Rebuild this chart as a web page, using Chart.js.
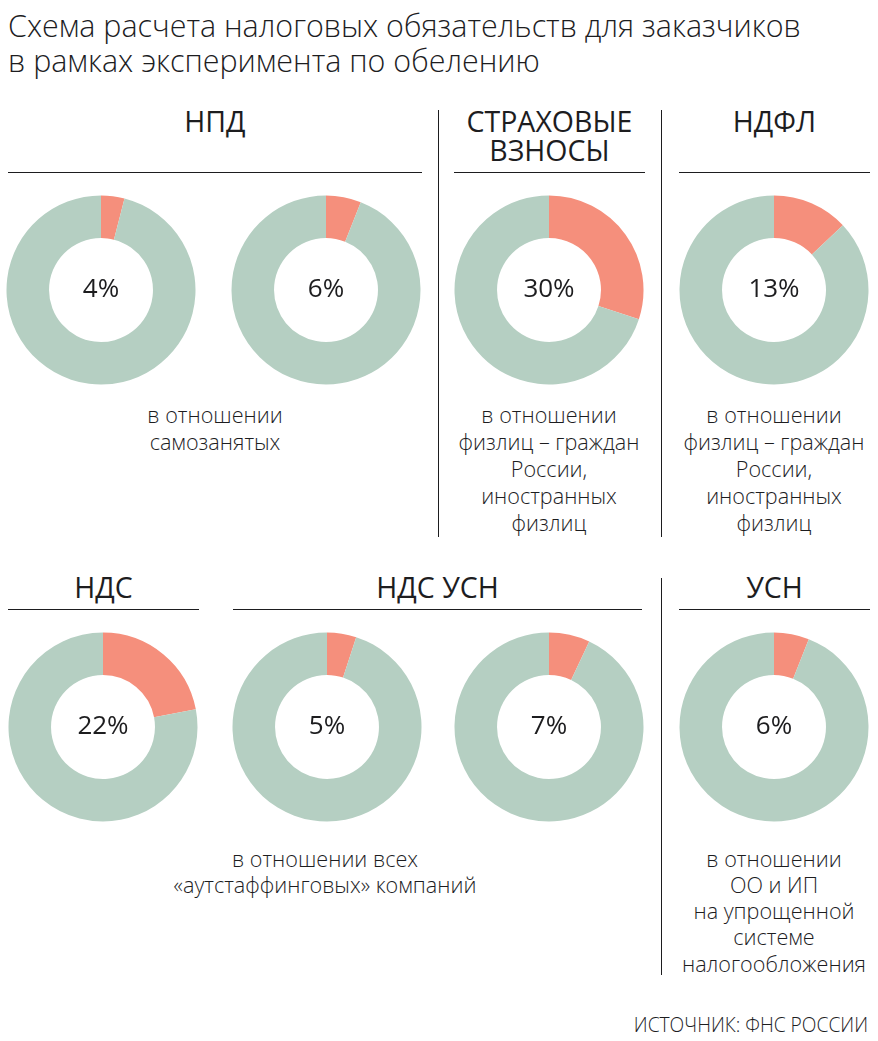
<!DOCTYPE html>
<html lang="ru">
<head>
<meta charset="utf-8">
<title>Схема расчета налоговых обязательств</title>
<script src="https://cdn.jsdelivr.net/npm/chart.js@4.4.1/dist/chart.umd.min.js"></script>
<style>
  html, body { margin: 0; padding: 0; background: #fff; }
  body { width: 878px; height: 1041px; position: relative; overflow: hidden; font-family: 'Open Sans', sans-serif; color: #1d1d1f; }
  .abs { position: absolute; }
  .title { left: 8px; top: 8px; font-size: 30.45px; font-weight: 300; line-height: 35px; white-space: nowrap; }
  .head { font-size: 28.5px; font-weight: 500; line-height: 29px; text-align: center; }
  .rule { background: #1d1d1f; }
  .cap { font-size: 21.6px; font-weight: 300; text-align: center; white-space: nowrap; width: 340px; }
  .pct { font-size: 26px; font-weight: 400; line-height: 30px; width: 100px; text-align: center; }
  .src { right: 10px; top: 1015px; font-size: 19.2px; font-weight: 300; line-height: 20px; white-space: nowrap; }
</style>
</head>
<body>
<div class="abs title">Схема расчета налоговых обязательств для заказчиков<br>в рамках эксперимента по обелению</div>
<div class="abs src">ИСТОЧНИК: ФНС РОССИИ</div>
<script>
  // data
  const panelTitles = ['НПД', 'СТРАХОВЫЕ<br>ВЗНОСЫ', 'НДФЛ', 'НДС', 'НДС УСН', 'УСН'];
  const rates = [4, 6, 30, 13, 22, 5, 7, 6];
  const sliceLabels = ['ставка', 'остальное'];
  const captions = [
    'в отношении<br>самозанятых',
    'в отношении<br>физлиц – граждан<br>России,<br>иностранных<br>физлиц',
    'в отношении<br>физлиц – граждан<br>России,<br>иностранных<br>физлиц',
    'в отношении всех<br>«аутстаффинговых» компаний',
    'в отношении<br>ОО и ИП<br>на упрощенной<br>системе<br>налогообложения'
  ];

  // layout
  const SALMON = '#f58f7c';
  const SAGE = '#b5cfc2';
  const donutCenters = [[101, 290], [326, 290], [549, 290], [774, 290], [103, 727], [327, 727], [549, 727], [774, 727]];
  const headBoxes = [[8, 414, 106.5], [454, 191, 106.5], [679, 191, 106.5], [8, 191, 572.5], [233, 409, 572.5], [679, 191, 572.5]];
  const rules = [[8, 172, 414, 1.3], [454, 172, 191, 1.3], [679, 172, 191, 1.3], [8, 609, 191, 1.3], [233, 609, 409, 1.3], [679, 609, 191, 1.3],
                 [438, 110, 1.3, 427], [661, 110, 1.3, 427], [661, 578, 1.3, 397]];
  const capBoxes = [[215, 401, 27], [549, 401, 27], [774, 401, 27], [325, 845.5, 26.3], [774, 845.5, 26.3]];

  const body = document.body;
  function add(cls, css, html) {
    const d = document.createElement('div');
    d.className = 'abs ' + cls;
    Object.assign(d.style, css);
    if (html != null) d.innerHTML = html;
    body.appendChild(d);
    return d;
  }

  rules.forEach(([x, y, w, h]) => add('rule', { left: x + 'px', top: y + 'px', width: w + 'px', height: h + 'px' }));
  panelTitles.forEach((t, i) => {
    const [x, w, y] = headBoxes[i];
    add('head', { left: x + 'px', width: w + 'px', top: y + 'px' }, t);
  });
  captions.forEach((t, i) => {
    const [cx, y, lh] = capBoxes[i];
    add('cap', { left: (cx - 170) + 'px', top: y + 'px', lineHeight: lh + 'px' }, t);
  });

  rates.forEach((v, i) => {
    const [cx, cy] = donutCenters[i];
    const box = add('', { left: (cx - 95) + 'px', top: (cy - 95) + 'px', width: '190px', height: '190px' });
    const cv = document.createElement('canvas');
    cv.width = 190; cv.height = 190;
    box.appendChild(cv);
    new Chart(cv, {
      type: 'doughnut',
      data: {
        labels: sliceLabels,
        datasets: [{
          data: [v, 100 - v],
          backgroundColor: [SALMON, SAGE],
          borderWidth: 0,
          hoverOffset: 0
        }]
      },
      options: {
        responsive: false,
        animation: false,
        cutout: '55%',
        radius: 94.5,
        layout: { padding: 0 },
        plugins: { legend: { display: false }, tooltip: { enabled: false } }
      }
    });
    add('pct', { left: (cx - 50) + 'px', top: (cy - 18) + 'px' }, v + '%');
  });
</script>
</body>
</html>
